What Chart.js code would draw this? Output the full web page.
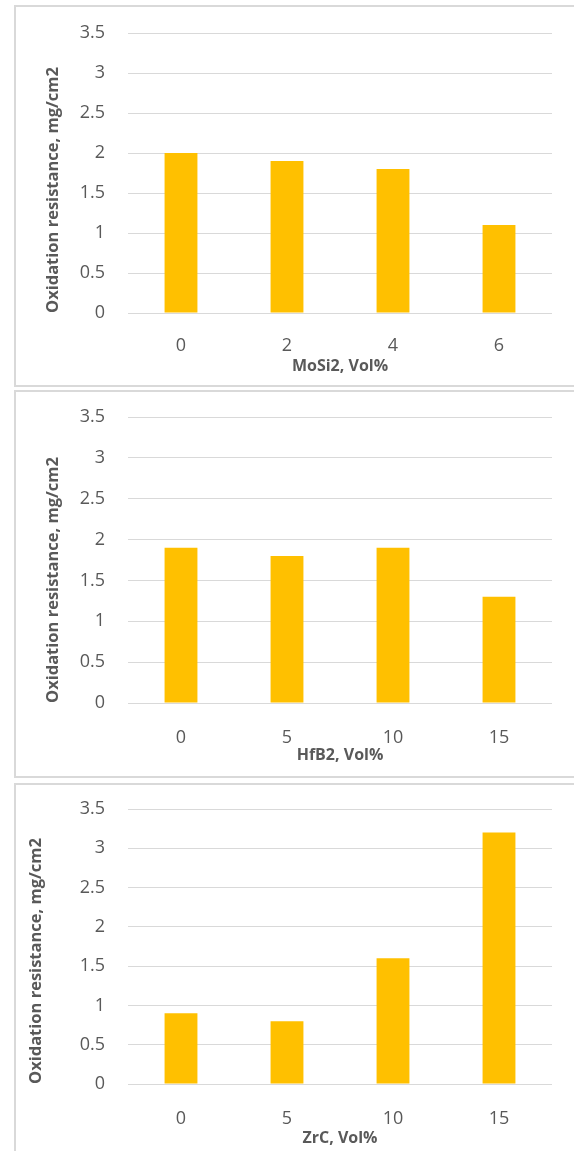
<!DOCTYPE html>
<html>
<head>
<meta charset="utf-8">
<script src="https://cdn.jsdelivr.net/npm/chart.js@4/dist/chart.umd.min.js"></script>
<style>
  html, body { margin: 0; padding: 0; background: #ffffff; overflow: hidden; }
  body { width: 574px; height: 1151px; position: relative; }
  .panel { position: absolute; left: 14px; width: 620px; box-sizing: border-box; border: 2px solid #d9d9d9; background: #ffffff; }
  canvas { position: absolute; left: 15px; }
</style>
</head>
<body>
<div class="panel" style="top:5px;height:382px;"></div>
<div class="panel" style="top:390px;height:388px;"></div>
<div class="panel" style="top:783px;height:400px;"></div>
<canvas id="chartMoSi2" width="559" height="380" style="top:6px;"></canvas>
<canvas id="chartHfB2" width="559" height="384" style="top:392px;"></canvas>
<canvas id="chartZrC" width="559" height="366" style="top:785px;"></canvas>
<script>
// Oxidation results (mg/cm2) for each additive content
const mosi2Labels = ['0', '2', '4', '6'];
const mosi2Values = [2.0, 1.9, 1.8, 1.1];

const hfb2Labels = ['0', '5', '10', '15'];
const hfb2Values = [1.9, 1.8, 1.9, 1.3];

const zrcLabels = ['0', '5', '10', '15'];
const zrcValues = [0.9, 0.8, 1.6, 3.2];

const yMin = 0;
const yMax = 3.5;
const yStep = 0.5;
const yTitle = 'Oxidation resistance, mg/cm2';

const textColor = '#595959';
const gridColor = '#d9d9d9';
const barColor = '#FFC000';
const family = '"Open Sans", "Liberation Sans", sans-serif';

function fmtTick(value) {
  return String(Number(value.toFixed(1)));
}

function makeChart(id, labels, values, xTitle, g) {
  return new Chart(document.getElementById(id), {
    type: 'bar',
    data: {
      labels: labels,
      datasets: [{
        data: values,
        backgroundColor: barColor,
        borderWidth: 0,
        categoryPercentage: 1,
        barPercentage: 0.31
      }]
    },
    options: {
      responsive: false,
      animation: false,
      devicePixelRatio: 1,
      layout: { padding: { left: 0, right: 22, top: g.top, bottom: 0 } },
      plugins: { legend: { display: false }, tooltip: { enabled: false } },
      scales: {
        x: {
          grid: { display: false },
          border: { display: false },
          ticks: { color: textColor, font: { family: family, size: 18 }, padding: g.xTickPad, maxRotation: 0 },
          title: {
            display: true, text: xTitle, color: textColor,
            font: { family: family, size: 16, weight: 'bold' },
            padding: { top: 0, bottom: g.xTitlePad }
          },
          afterFit: function (s) { s.height = g.xHeight; }
        },
        y: {
          min: yMin, max: yMax,
          ticks: { stepSize: yStep, color: textColor, font: { family: family, size: 18 }, padding: 0, callback: fmtTick },
          // invisible tick marks keep the labels clear of the plot area
          grid: { color: gridColor, lineWidth: 1, drawTicks: true, tickLength: 23, tickColor: 'rgba(0,0,0,0)' },
          border: { display: false },
          title: {
            display: true, text: yTitle, align: 'start', color: textColor,
            font: { family: family, size: 16.5, weight: 'bold' },
            padding: { top: g.yTitlePad, bottom: 0 }
          },
          afterFit: function (s) { s.width = 113; }
        }
      }
    }
  });
}

makeChart('chartMoSi2', mosi2Labels, mosi2Values, 'MoSi2, Vol%',
  { top: 27, xHeight: 73, xTickPad: 14, xTitlePad: 10.4, yTitlePad: 28.4 });
makeChart('chartHfB2', hfb2Labels, hfb2Values, 'HfB2, Vol%',
  { top: 25, xHeight: 73, xTickPad: 16, xTitlePad: 11.4, yTitlePad: 28.4 });
makeChart('chartZrC', zrcLabels, zrcValues, 'ZrC, Vol%',
  { top: 24, xHeight: 67, xTickPad: 16, xTitlePad: 3.4, yTitlePad: 11.4 });
</script>
</body>
</html>
